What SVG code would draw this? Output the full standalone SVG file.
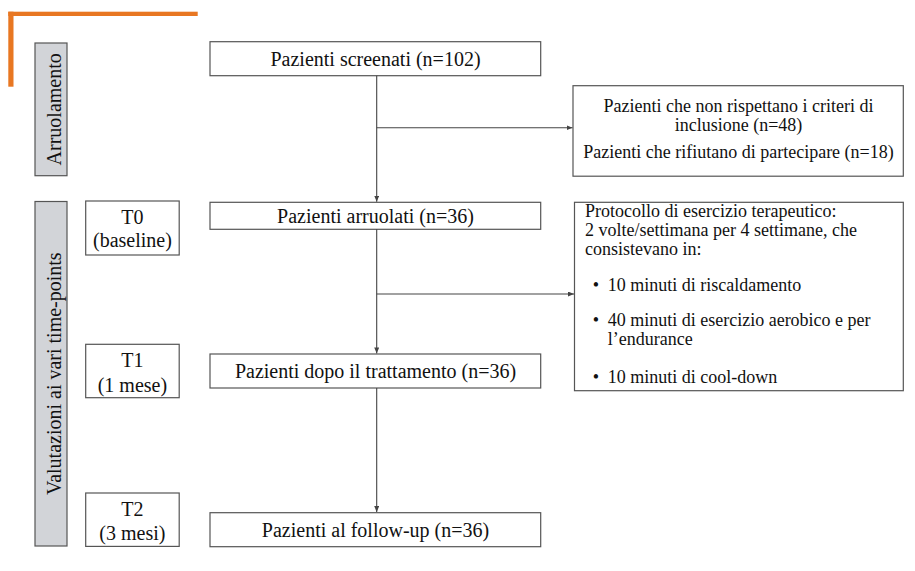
<svg xmlns="http://www.w3.org/2000/svg" width="915" height="571" viewBox="0 0 915 571">
<defs>
<style>
.box{fill:#ffffff;stroke:#555555;stroke-width:1.2}
.side{fill:#d2d4d8;stroke:#555555;stroke-width:1.2}
text{font-family:"Liberation Serif","Times New Roman",serif;fill:#111111}
.m{font-size:20px;text-anchor:middle}
.s{font-size:18px}
.c{text-anchor:middle}
.conn{stroke:#444444;stroke-width:1.1;fill:none}
</style>
<marker id="arr" viewBox="0 0 6 5" refX="6" refY="2.5" markerWidth="6" markerHeight="5" markerUnits="userSpaceOnUse" orient="auto">
<path d="M0,0 L6,2.5 L0,5 z" fill="#444444"/>
</marker>
</defs>
<rect width="915" height="571" fill="#ffffff"/>
<g id="accent">
<rect x="8.3" y="11.7" width="189.4" height="4.3" fill="#e87722"/>
<rect x="8.3" y="11.7" width="5.2" height="75" fill="#e87722"/>
</g>
<g id="phase-arruolamento">
<rect class="side" x="35" y="43" width="32" height="132.7"/>
<text class="m" transform="translate(60.5,109.3) rotate(-90)">Arruolamento</text>
</g>
<g id="phase-valutazioni">
<rect class="side" x="35" y="201.5" width="32" height="344.5"/>
<text class="m" transform="translate(60.5,373.7) rotate(-90)">Valutazioni ai vari time-points</text>
</g>
<g id="t0">
<rect class="box" x="85.7" y="201" width="93.5" height="54"/>
<text class="m" x="132.4" y="224">T0</text>
<text class="m" x="132.4" y="247">(baseline)</text>
</g>
<g id="t1">
<rect class="box" x="85.7" y="344.3" width="93.5" height="53.4"/>
<text class="m" x="132.4" y="367">T1</text>
<text class="m" x="132.4" y="391.5">(1 mese)</text>
</g>
<g id="t2">
<rect class="box" x="85.7" y="493" width="93.5" height="53.4"/>
<text class="m" x="132.4" y="515.5">T2</text>
<text class="m" x="132.4" y="540">(3 mesi)</text>
</g>
<g id="screenati">
<rect class="box" x="210" y="41.7" width="330.7" height="34"/>
<text class="m" x="375.5" y="65.5">Pazienti screenati (n=102)</text>
</g>
<g id="esclusi">
<rect class="box" x="573" y="85.7" width="330.3" height="90.5"/>
<text class="s c" x="738.5" y="111.5">Pazienti che non rispettano i criteri di</text>
<text class="s c" x="738.5" y="130.5">inclusione (n=48)</text>
<text class="s c" x="738.5" y="158">Pazienti che rifiutano di partecipare (n=18)</text>
</g>
<g id="arruolati">
<rect class="box" x="210" y="202.3" width="330.7" height="27"/>
<text class="m" x="375.5" y="222.6">Pazienti arruolati (n=36)</text>
</g>
<g id="protocollo">
<rect class="box" x="574.5" y="202.3" width="328.8" height="188.4"/>
<text class="s" x="585" y="216.5">Protocollo di esercizio terapeutico:</text>
<text class="s" x="585" y="235.5">2 volte/settimana per 4 settimane, che</text>
<text class="s" x="585" y="254.5">consistevano in:</text>
<text class="s c" x="596" y="290.7">•</text>
<text class="s" x="607.7" y="290.7">10 minuti di riscaldamento</text>
<text class="s c" x="596" y="326.3">•</text>
<text class="s" x="607.7" y="326.3">40 minuti di esercizio aerobico e per</text>
<text class="s" x="607.7" y="345.3">l’endurance</text>
<text class="s c" x="596" y="383.3">•</text>
<text class="s" x="607.7" y="383.3">10 minuti di cool-down</text>
</g>
<g id="dopo">
<rect class="box" x="210" y="354" width="330.7" height="34"/>
<text class="m" x="375.5" y="377.8">Pazienti dopo il trattamento (n=36)</text>
</g>
<g id="followup">
<rect class="box" x="210" y="512.7" width="330.7" height="34"/>
<text class="m" x="375.5" y="536.5">Pazienti al follow-up (n=36)</text>
</g>
<g id="connectors">
<line class="conn" x1="376.7" y1="75.7" x2="376.7" y2="201.7" marker-end="url(#arr)"/>
<line class="conn" x1="376.7" y1="127.7" x2="572.5" y2="127.7" marker-end="url(#arr)"/>
<line class="conn" x1="376.7" y1="229.3" x2="376.7" y2="353.4" marker-end="url(#arr)"/>
<line class="conn" x1="376.7" y1="294" x2="574" y2="294" marker-end="url(#arr)"/>
<line class="conn" x1="376.7" y1="388" x2="376.7" y2="512.1" marker-end="url(#arr)"/>
</g>
</svg>
